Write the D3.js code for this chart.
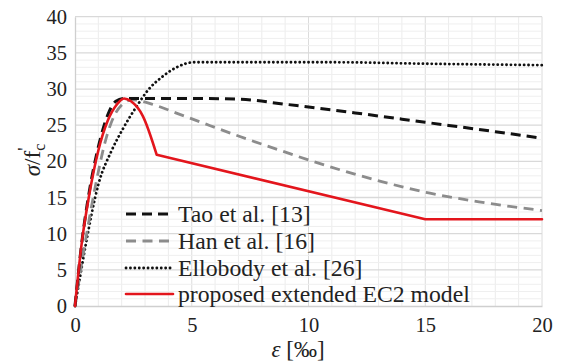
<!DOCTYPE html>
<html>
<head>
<meta charset="utf-8">
<script src="https://cdn.jsdelivr.net/npm/d3@7"></script>
<style>
  html, body { margin: 0; padding: 0; background: #fff; }
  svg { display: block; }
</style>
</head>
<body>
<svg id="chart" width="563" height="363"></svg>
<script>
// Stress–strain curves: strain ε [‰] vs. σ/f'c
const taoCurve = [
  [0, 0], [0.3, 9.0], [0.6, 15.6], [1.0, 22.0], [1.4, 26.4], [1.75, 28.3],
  [2.1, 28.7], [5.0, 28.7], [7.0, 28.6], [9.0, 27.9], [12.0, 26.7],
  [15.0, 25.4], [18.0, 24.1], [20.0, 23.2]
];
const hanCurve = [
  [0, 0], [0.5, 10.0], [0.9, 17.0], [1.36, 23.5], [1.71, 26.5], [2.0, 27.8],
  [2.45, 28.5], [3.4, 27.8], [4.4, 26.6], [5.4, 25.4], [7.0, 23.5],
  [8.8, 21.5], [10.0, 20.2], [12.9, 17.4], [15.2, 15.6], [17.3, 14.4], [20.0, 13.2]
];
const ellobodyCurve = [
  [0, 0], [0.15, 2.8], [0.45, 8.3], [1.0, 16.8], [1.57, 21.5], [2.07, 24.6],
  [2.64, 27.6], [3.14, 29.9], [3.7, 31.6], [4.35, 33.0], [5.1, 33.7],
  [8.0, 33.7], [11.0, 33.7], [15.0, 33.5], [20.0, 33.3]
];
const ec2Rise = [
  [0, 0], [0.3, 9.0], [0.6, 15.2], [1.0, 21.5], [1.4, 25.6], [1.8, 27.9],
  [2.1, 28.7], [2.4, 28.3], [2.9, 26.3], [3.5, 20.9]
];
const ec2Tail = [[3.5, 20.9], [15.0, 12.0], [20.0, 12.0]];

const legendLabels = [
  "Tao et al. [13]",
  "Han et al. [16]",
  "Ellobody et al. [26]",
  "proposed extended EC2 model"
];
const xTicks = [0, 5, 10, 15, 20];
const yTicks = [0, 5, 10, 15, 20, 25, 30, 35, 40];

const serif = '"Liberation Serif", Tinos, "Times New Roman", Times, "Nimbus Roman", "Noto Serif", FreeSerif, "DejaVu Serif", serif';

const svg = d3.select("#chart");
const x = d3.scaleLinear().domain([0, 20]).range([75, 542]);
const y = d3.scaleLinear().domain([0, 40]).range([306, 16.7]);

// grid: minor every 1 unit, major every 5
const grid = svg.append("g");
grid.selectAll(".v").data(d3.range(1, 21)).enter().append("line")
  .attr("x1", d => x(d)).attr("x2", d => x(d))
  .attr("y1", y(0)).attr("y2", y(40))
  .attr("stroke", d => d % 5 === 0 ? "#dcdcdc" : "#ececec").attr("stroke-width", 1);
grid.selectAll(".h").data(d3.range(1, 41)).enter().append("line")
  .attr("x1", x(0)).attr("x2", x(20))
  .attr("y1", d => y(d)).attr("y2", d => y(d))
  .attr("stroke", d => d % 5 === 0 ? "#d9d9d9" : "#efefef").attr("stroke-width", d => d % 5 === 0 ? 1.3 : 1);

// legend text size: fit the longest label to the legend width
const probe = svg.append("text").attr("font-family", serif).attr("font-size", 20)
  .text(legendLabels[3]);
const probeW = probe.node().getComputedTextLength();
probe.remove();
const fs = Math.max(18, Math.min(24, 20 * 292 / probeW));

// axes
const xAxis = d3.axisBottom(x).tickValues(xTicks).tickSize(0).tickPadding(11);
const yAxis = d3.axisLeft(y).tickValues(yTicks).tickSize(0).tickPadding(8);
const gx = svg.append("g").attr("transform", `translate(0,${y(0)})`).call(xAxis);
const gy = svg.append("g").attr("transform", `translate(${x(0)},0)`).call(yAxis);
[gx, gy].forEach(g => {
  g.attr("font-family", serif).attr("font-size", 20.5);
  g.select(".domain").attr("stroke", "#cfcfcf").attr("stroke-width", 1.3);
  g.selectAll("text").attr("fill", "#222");
});
gx.selectAll("text").attr("dy", "0.71em");

// curves
const smooth = d3.line().x(d => x(d[0])).y(d => y(d[1])).curve(d3.curveMonotoneX);
const straight = d3.line().x(d => x(d[0])).y(d => y(d[1]));

const styles = [
  { stroke: "#111", width: 3, dash: "10,6", cap: "butt" },
  { stroke: "#8c8c8c", width: 2.8, dash: "10,6.5", cap: "butt" },
  { stroke: "#111", width: 2.8, dash: "0.1,4.3", cap: "round" },
  { stroke: "#e3151c", width: 2.6, dash: null, cap: "round" }
];

function styled(sel, s) {
  sel.attr("fill", "none").attr("stroke", s.stroke).attr("stroke-width", s.width)
    .attr("stroke-linecap", s.cap).attr("stroke-linejoin", "round");
  if (s.dash) sel.attr("stroke-dasharray", s.dash);
  return sel;
}

styled(svg.append("path").attr("d", smooth(ellobodyCurve)), styles[2]);
styled(svg.append("path").attr("d", smooth(hanCurve)), styles[1]);
styled(svg.append("path").attr("d", smooth(taoCurve)), styles[0]);
styled(svg.append("path").attr("d", smooth(ec2Rise) + straight(ec2Tail).replace(/^M/, "L")), styles[3]);

// legend
const legend = svg.append("g").attr("font-family", serif).attr("font-size", fs).attr("fill", "#222");
const rowY = [214, 241, 268, 294];
legendLabels.forEach((label, i) => {
  styled(legend.append("line")
    .attr("x1", 126).attr("x2", 173).attr("y1", rowY[i]).attr("y2", rowY[i]), styles[i]);
  legend.append("text").attr("x", 178).attr("y", rowY[i]).attr("dy", "0.35em").text(label);
});

// axis titles
const xt = svg.append("text").attr("x", 298).attr("y", 357)
  .attr("text-anchor", "middle").attr("font-family", serif).attr("font-size", 23).attr("fill", "#222");
xt.append("tspan").attr("font-style", "italic").text("ε");
xt.append("tspan").text(" [‰]");

const yt = svg.append("text")
  .attr("transform", "translate(40,160) rotate(-90)")
  .attr("text-anchor", "middle").attr("font-family", serif).attr("font-size", 23).attr("fill", "#222");
yt.append("tspan").attr("font-style", "italic").text("σ");
yt.append("tspan").text("/f");
yt.append("tspan").attr("dy", 5).attr("font-size", 16).text("c");
yt.append("tspan").attr("dy", -14).attr("dx", -7).attr("font-size", 18).text("'");
</script>
</body>
</html>
